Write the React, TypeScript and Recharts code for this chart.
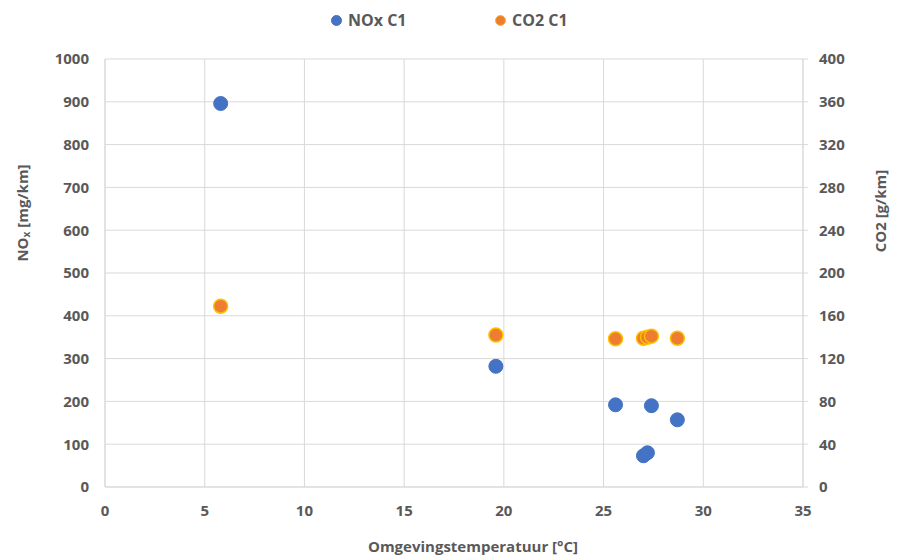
import { CartesianGrid, Label, Scatter, ScatterChart, XAxis, YAxis } from 'recharts'

const temps = [5.8, 19.6, 25.6, 27.0, 27.2, 27.4, 28.7]
const noxValues = [896, 282, 192, 73, 80, 190, 157]
const co2Values = [169, 142, 138.5, 139, 140, 141, 139]

const xTicks = [0, 5, 10, 15, 20, 25, 30, 35]
const noxTicks = [0, 100, 200, 300, 400, 500, 600, 700, 800, 900, 1000]
const co2Ticks = [0, 40, 80, 120, 160, 200, 240, 280, 320, 360, 400]

const BLUE = '#4472C4'
const ORANGE = '#ED7D31'
const TEXT = '#595959'
const GRID = '#d9d9d9'
const FONT = '"Open Sans", sans-serif'

const noxData = temps.map((t, i) => ({ t, nox: noxValues[i] }))
const co2Data = temps.map((t, i) => ({ t, co2: co2Values[i] }))

const tickStyle = { fontSize: 15, fontWeight: 700, fill: TEXT, fontFamily: FONT }

const BlueDot = (p: any) => <circle cx={p.cx} cy={p.cy} r={7} fill={BLUE} stroke={BLUE} strokeWidth={1} />
const OrangeDot = (p: any) => <circle cx={p.cx} cy={p.cy} r={7} fill={ORANGE} stroke="#FFC000" strokeWidth={1.5} />

const legendItem = (left: number, color: string, border: string, label: string) => (
  <div style={{ position: 'absolute', left, top: 8, height: 24, display: 'flex', alignItems: 'center', fontSize: 16, fontWeight: 700, color: TEXT }}>
    <span style={{ width: 11, height: 11, borderRadius: '50%', background: color, border: `1px solid ${border}`, boxSizing: 'border-box', marginRight: 6 }} />
    {label}
  </div>
)

export default function App() {
  return (
    <div style={{ position: 'absolute', left: 0, top: 0, width: 897, height: 557, background: '#fff', fontFamily: FONT }}>
      {legendItem(331, BLUE, BLUE, 'NOx C1')}
      {legendItem(495, ORANGE, '#FFC000', 'CO2 C1')}
      <ScatterChart width={897} height={557} margin={{ top: 59, right: 0, bottom: 0, left: 0 }}>
        <CartesianGrid yAxisId="left" stroke={GRID} strokeWidth={1} />
        <XAxis
          type="number"
          dataKey="t"
          domain={[0, 35]}
          ticks={xTicks}
          interval={0}
          height={70}
          tickLine={false}
          tickSize={6}
          tickMargin={12}
          axisLine={{ stroke: GRID }}
          tick={tickStyle}
        >
          <Label
            content={() => (
              <text x={473} y={546} textAnchor="middle" dominantBaseline="central" fontSize={15} fontWeight={700} fill={TEXT} fontFamily={FONT}>
                Omgevingstemperatuur [°C]
              </text>
            )}
          />
        </XAxis>
        <YAxis
          yAxisId="left"
          type="number"
          dataKey="nox"
          domain={[0, 1000]}
          ticks={noxTicks}
          interval={0}
          width={105}
          tickLine={false}
          tickSize={6}
          tickMargin={10}
          axisLine={{ stroke: GRID }}
          tick={tickStyle}
        >
          <Label
            content={() => (
              <text transform="rotate(-90 22 213)" x={22} y={213} textAnchor="middle" dominantBaseline="central" fontSize={15} fontWeight={700} fill={TEXT} fontFamily={FONT}>
                NO<tspan fontSize={10} dy={4}>x</tspan><tspan dy={-4}> [mg/km]</tspan>
              </text>
            )}
          />
        </YAxis>
        <YAxis
          yAxisId="right"
          orientation="right"
          type="number"
          dataKey="co2"
          domain={[0, 400]}
          ticks={co2Ticks}
          interval={0}
          width={94}
          tickSize={5}
          tickMargin={11}
          tickLine={{ stroke: GRID }}
          axisLine={{ stroke: GRID }}
          tick={tickStyle}
        >
          <Label
            content={() => (
              <text transform="rotate(-90 880 211)" x={880} y={211} textAnchor="middle" dominantBaseline="central" fontSize={15} fontWeight={700} fill={TEXT} fontFamily={FONT}>
                CO2 [g/km]
              </text>
            )}
          />
        </YAxis>
        <Scatter name="NOx C1" data={noxData} yAxisId="left" shape={BlueDot} isAnimationActive={false} />
        <Scatter name="CO2 C1" data={co2Data} yAxisId="right" shape={OrangeDot} isAnimationActive={false} />
      </ScatterChart>
    </div>
  )
}
